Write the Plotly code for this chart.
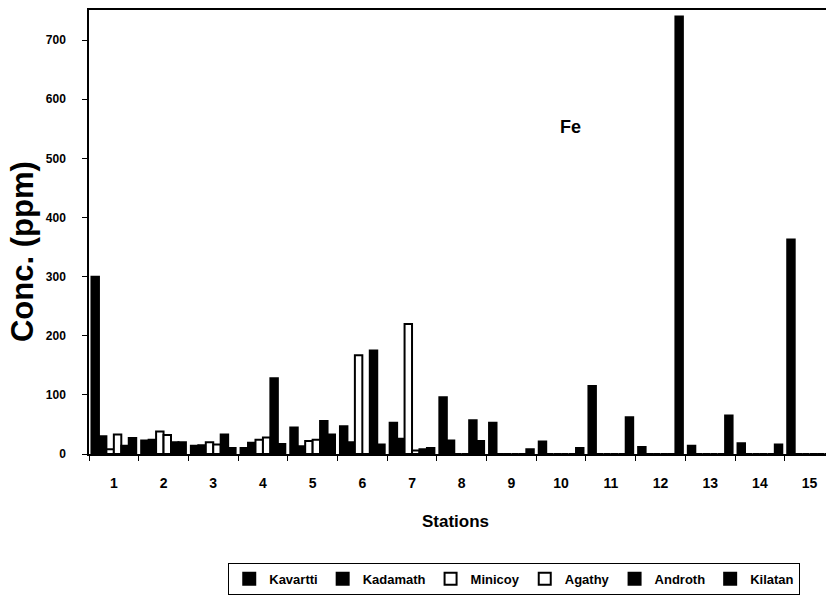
import plotly.graph_objects as go

# Fe concentration (ppm) at 15 stations for six islands
stations = [str(i) for i in range(1, 16)]

kavartti = [300, 23, 14, 10, 45, 47, 53, 96, 53, 21, 115, 12, 14, 18, 363]
kadamath = [30, 24, 15, 19, 13, 20, 26, 23, 0, 0, 0, 0, 0, 0, 0]
minicoy = [8, 38, 20, 24, 22, 167, 220, 0, 0, 0, 0, 0, 0, 0, 0]
agathy = [33, 32, 16, 28, 24, 0, 6, 0, 0, 0, 0, 0, 0, 0, 0]
androth = [14, 20, 33, 128, 56, 175, 8, 57, 0, 0, 0, 0, 0, 0, 0]
kilatan = [27, 20, 10, 17, 33, 16, 10, 22, 8, 10, 62, 740, 65, 16, 0]

series = [
    ("Kavartti", kavartti, "black"),
    ("Kadamath", kadamath, "black"),
    ("Minicoy", minicoy, "white"),
    ("Agathy", agathy, "white"),
    ("Androth", androth, "black"),
    ("Kilatan", kilatan, "black"),
]

FONT = "Arial, Liberation Sans, sans-serif"

fig = go.Figure()
for name, vals, fill in series:
    fig.add_trace(go.Bar(
        name=name, x=stations, y=vals,
        marker=dict(color=fill, line=dict(color="black", width=2)),
    ))

fig.update_layout(
    width=826, height=595,
    margin=dict(l=89, r=0, t=10, b=141),
    paper_bgcolor="white", plot_bgcolor="white",
    barmode="group", bargap=0.1, bargroupgap=0,
    font=dict(family=FONT, color="black"),
    showlegend=True,
    legend=dict(
        orientation="h", x=0.577, xanchor="center", y=-0.281, yanchor="middle",
        bordercolor="black", borderwidth=1, bgcolor="white",
        font=dict(family=FONT, size=13, color="black", weight="bold"),
        itemwidth=30, tracegroupgap=0,
    ),
    xaxis=dict(
        type="category", range=[-0.5, 14.33],
        showline=True, linecolor="black", linewidth=1.5, mirror=True,
        ticks="outside", tickson="boundaries", ticklen=5, tickcolor="black",
        tickfont=dict(family=FONT, size=14, color="black", weight="bold"),
        ticklabelstandoff=15,
        showgrid=False, zeroline=False,
    ),
    yaxis=dict(
        range=[0, 751], tickvals=list(range(0, 800, 100)),
        showline=True, linecolor="black", linewidth=1.5,
        ticks="outside", ticklen=5, tickcolor="black",
        tickfont=dict(family=FONT, size=12, color="black", weight="bold"),
        ticklabelstandoff=14,
        showgrid=False, zeroline=False,
    ),
    annotations=[
        dict(text="Conc. (ppm)", xref="paper", yref="paper",
             x=-0.0895, y=0.455, xanchor="center", yanchor="middle",
             textangle=-90, showarrow=False,
             font=dict(family=FONT, size=31, color="black", weight="bold")),
        dict(text="Stations", xref="paper", yref="paper",
             x=0.497, y=-0.153, xanchor="center", yanchor="middle",
             showarrow=False,
             font=dict(family=FONT, size=17, color="black", weight="bold")),
        dict(text="Fe", xref="paper", yref="paper",
             x=0.653, y=0.736, xanchor="center", yanchor="middle",
             showarrow=False,
             font=dict(family=FONT, size=18, color="black", weight="bold")),
    ],
)

fig.write_html("out.html")
